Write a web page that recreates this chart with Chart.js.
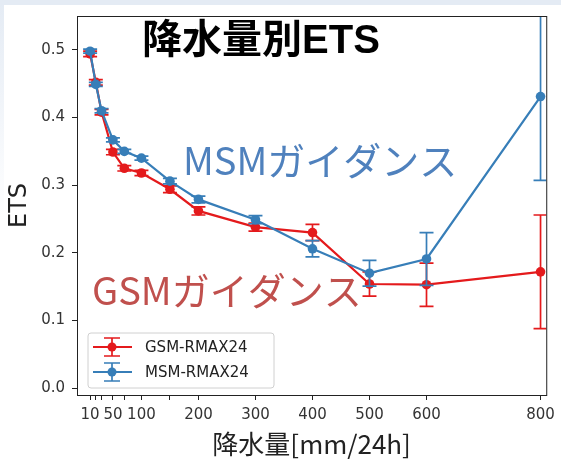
<!DOCTYPE html>
<html>
<head>
<meta charset="utf-8">
<script src="https://cdn.jsdelivr.net/npm/chart.js"></script>
<style>
  html, body { margin: 0; padding: 0; background: #fff; }
  #wrap { width: 561px; height: 460px; }
</style>
</head>
<body>
<div id="wrap"><canvas id="chart" width="561" height="460"></canvas></div>
<script>
// dati
const soglie = [10, 20, 30, 50, 70, 100, 150, 200, 300, 400, 500, 600, 800];
const tickEtichettate = [10, 50, 100, 200, 300, 400, 500, 600, 800];
const yTicks = [0, 0.1, 0.2, 0.3, 0.4, 0.5];

const gsmEts = [0.494, 0.452, 0.408, 0.349, 0.325, 0.318, 0.294, 0.262, 0.238, 0.230, 0.154, 0.153, 0.172];
const gsmErr = [0.004, 0.004, 0.004, 0.004, 0.004, 0.004, 0.005, 0.006, 0.006, 0.012, 0.018, 0.032, 0.084];
const msmEts = [0.498, 0.449, 0.410, 0.367, 0.350, 0.340, 0.306, 0.279, 0.249, 0.206, 0.170, 0.191, 0.431];
const msmErr = [0.003, 0.003, 0.003, 0.003, 0.003, 0.003, 0.004, 0.005, 0.006, 0.012, 0.019, 0.039, 0.124];

const ROSSO = "#e41a1c";
const BLU = "#377eb8";

function punti(ys) {
  return soglie.map((x, i) => ({ x: x, y: ys[i] }));
}

// barre d'errore
const erroriPlugin = {
  id: "errori",
  beforeDatasetDraw(chart, args) {
    const ds = chart.data.datasets[args.index];
    const xs = chart.scales.x, ys = chart.scales.y;
    const area = chart.chartArea;
    const ctx = chart.ctx;
    ctx.save();
    ctx.beginPath();
    ctx.rect(area.left, area.top, area.right - area.left, area.bottom - area.top);
    ctx.clip();
    ctx.strokeStyle = ds.borderColor;
    ctx.lineWidth = 1.7;
    ds.data.forEach((p, i) => {
      const e = ds.errori[i];
      const px = xs.getPixelForValue(p.x);
      const y1 = ys.getPixelForValue(p.y + e);
      const y2 = ys.getPixelForValue(p.y - e);
      ctx.beginPath();
      ctx.moveTo(px, y1); ctx.lineTo(px, y2);
      ctx.moveTo(px - 7, y1); ctx.lineTo(px + 7, y1);
      ctx.moveTo(px - 7, y2); ctx.lineTo(px + 7, y2);
      ctx.stroke();
    });
    ctx.restore();
  }
};

// sfondo, cornice, titoli e legenda
const decorPlugin = {
  id: "decor",
  beforeDraw(chart) {
    const ctx = chart.ctx;
    ctx.save();
    ctx.fillStyle = "#fff";
    ctx.fillRect(0, 0, chart.width, chart.height);
    ctx.fillStyle = "#e4ebf4";
    ctx.fillRect(0, 0, chart.width, 5);
    const g = ctx.createLinearGradient(0, 0, 0, 220);
    g.addColorStop(0, "#e4ebf4");
    g.addColorStop(1, "#ffffff");
    ctx.fillStyle = g;
    ctx.fillRect(0, 5, 4, 215);
    ctx.restore();
  },
  afterDraw(chart) {
    const ctx = chart.ctx;
    const a = chart.chartArea;
    ctx.save();
    ctx.strokeStyle = "#222";
    ctx.lineWidth = 1;
    ctx.strokeRect(a.left + 0.5, a.top + 0.5, a.right - a.left, a.bottom - a.top);

    ctx.textBaseline = "middle";
    ctx.textAlign = "center";
    ctx.fillStyle = "#000";
    ctx.font = 'bold 40px "Liberation Sans", "Noto Sans CJK JP"';
    ctx.fillText("降水量別ETS", 261, 42);

    ctx.textAlign = "left";
    ctx.font = '38px "Noto Sans CJK JP"';
    ctx.fillStyle = "#4f81bd";
    ctx.fillText("MSMガイダンス", 183, 161);
    ctx.fillStyle = "#c0504d";
    ctx.fillText("GSMガイダンス", 92, 291);

    // legenda
    const lx = a.left + 11, ly = a.bottom - 62, lw = 186, lh = 55;
    ctx.fillStyle = "rgba(255,255,255,0.85)";
    ctx.strokeStyle = "#d0d0d0";
    ctx.lineWidth = 1;
    ctx.beginPath();
    ctx.roundRect(lx, ly, lw, lh, 3);
    ctx.fill();
    ctx.stroke();
    const voci = [
      { nome: "GSM-RMAX24", col: ROSSO },
      { nome: "MSM-RMAX24", col: BLU }
    ];
    voci.forEach((v, i) => {
      const cy = ly + 14 + i * 25;
      const cx = lx + 24;
      ctx.strokeStyle = v.col;
      ctx.fillStyle = v.col;
      ctx.lineWidth = 2;
      ctx.beginPath();
      ctx.moveTo(lx + 5, cy); ctx.lineTo(lx + 44, cy);
      ctx.stroke();
      ctx.lineWidth = 1.7;
      ctx.beginPath();
      ctx.moveTo(cx, cy - 9); ctx.lineTo(cx, cy + 9);
      ctx.moveTo(cx - 8, cy - 9); ctx.lineTo(cx + 8, cy - 9);
      ctx.moveTo(cx - 8, cy + 9); ctx.lineTo(cx + 8, cy + 9);
      ctx.stroke();
      ctx.beginPath();
      ctx.arc(cx, cy, 4.5, 0, Math.PI * 2);
      ctx.fill();
      ctx.fillStyle = "#222";
      ctx.font = '15px "DejaVu Sans"';
      ctx.fillText(v.nome, lx + 57, cy + 1);
    });
    ctx.restore();
  }
};

const ctx = document.getElementById("chart").getContext("2d");
new Chart(ctx, {
  type: "line",
  data: {
    datasets: [
      {
        label: "GSM-RMAX24",
        data: punti(gsmEts),
        errori: gsmErr,
        borderColor: ROSSO,
        backgroundColor: ROSSO,
        borderWidth: 2.2,
        pointRadius: 4.8,
        pointBorderWidth: 0,
        order: 2
      },
      {
        label: "MSM-RMAX24",
        data: punti(msmEts),
        errori: msmErr,
        borderColor: BLU,
        backgroundColor: BLU,
        borderWidth: 2.2,
        pointRadius: 4.8,
        pointBorderWidth: 0,
        order: 1
      }
    ]
  },
  options: {
    responsive: false,
    animation: false,
    layout: { padding: { top: 8, right: 12, left: 0, bottom: 0 } },
    plugins: {
      legend: { display: false },
      tooltip: { enabled: false }
    },
    scales: {
      x: {
        type: "linear",
        min: -13,
        max: 810,
        afterFit: s => { s.height = 65; },
        afterBuildTicks: s => { s.ticks = soglie.map(v => ({ value: v })); },
        grid: { drawOnChartArea: false, drawTicks: true, tickLength: 5, color: "#222" },
        border: { display: true, color: "#222", width: 1 },
        ticks: {
          autoSkip: false,
          maxRotation: 0,
          padding: 6,
          color: "#333",
          font: { family: "DejaVu Sans", size: 15 },
          callback: v => tickEtichettate.includes(v) ? String(v) : ""
        },
        title: {
          display: true,
          text: "降水量[mm/24h]",
          color: "#222",
          font: { family: "Noto Sans CJK JP", size: 26 },
          padding: { top: 0, bottom: 0 }
        }
      },
      y: {
        min: -0.01,
        max: 0.55,
        afterFit: s => { s.width = 77; },
        afterBuildTicks: s => { s.ticks = yTicks.map(v => ({ value: v })); },
        grid: { drawOnChartArea: false, drawTicks: true, tickLength: 5, color: "#222" },
        border: { display: true, color: "#222", width: 1 },
        ticks: {
          padding: 7,
          color: "#333",
          font: { family: "DejaVu Sans", size: 15 },
          callback: v => v.toFixed(1)
        },
        title: {
          display: true,
          text: "ETS",
          color: "#222",
          font: { family: "DejaVu Sans", size: 24 },
          padding: { top: 5, bottom: 0 }
        }
      }
    }
  },
  plugins: [erroriPlugin, decorPlugin]
});
</script>
</body>
</html>
